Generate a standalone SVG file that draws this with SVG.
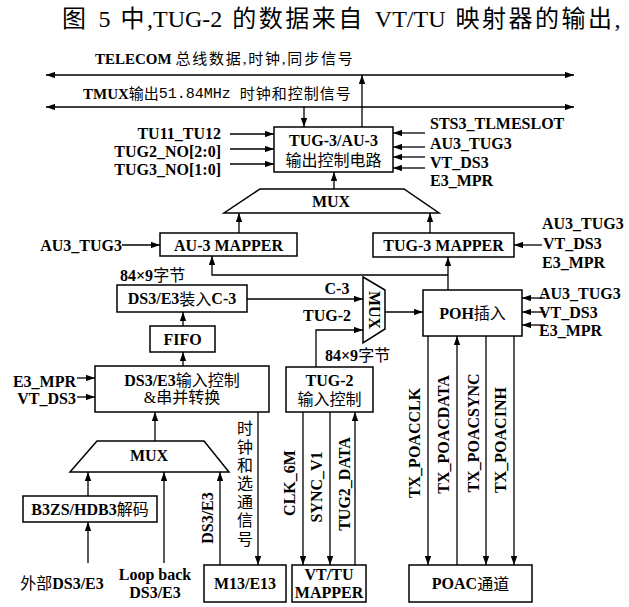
<svg xmlns="http://www.w3.org/2000/svg" width="629" height="607" viewBox="0 0 629 607">
<style>
text{font-family:"Liberation Serif","Noto Sans CJK SC",serif;font-size:16px;font-weight:bold;fill:#000;dominant-baseline:central}
.c{font-weight:normal}
.m{text-anchor:middle}
.e{text-anchor:end}
.ls{letter-spacing:2.5px}
.ln{stroke:#000;stroke-width:1.3;fill:none}
.ar{marker-end:url(#a)}
.bx{fill:#fff;stroke:#000;stroke-width:1.5}
</style>
<defs>
<marker id="a" viewBox="0 0 10 7" refX="10" refY="3.5" markerWidth="9" markerHeight="6.5" markerUnits="userSpaceOnUse" orient="auto-start-reverse"><path d="M0,0L10,3.5L0,7z" fill="#000"/></marker>
</defs>
<rect width="629" height="607" fill="#fff"/>
<text x="62" y="19" class="c" style="font-size:24px;word-spacing:4px"><tspan class="ls">图</tspan> 5 <tspan class="ls">中</tspan>,TUG-2 <tspan class="ls">的数据来自</tspan> VT/TU <tspan class="ls">映射器的输出</tspan>,</text>
<text x="95" y="59" style="font-size:15px">TELECOM <tspan class="c" style="letter-spacing:1.8px">总线数据,时钟,同步信号</tspan></text>
<text x="83" y="94" style="font-size:15px">TMUX<tspan class="c">输出</tspan><tspan class="c" style="font-family:'Liberation Mono',monospace">51.84MHz </tspan><tspan class="c" style="letter-spacing:1px">时钟和控制信号</tspan></text>

<g id="connectors">
<path class="ln ar" style="marker-start:url(#a)" d="M46,75H574"/>
<path class="ln ar" style="marker-start:url(#a)" d="M46,107H574"/>
<path class="ln ar" d="M362,127V75"/>
<path class="ln ar" d="M304,107V127"/>
<path class="ln ar" d="M230,134H274"/>
<path class="ln ar" d="M230,149H274"/>
<path class="ln ar" d="M230,164H274"/>
<path class="ln ar" d="M425,133H393"/>
<path class="ln ar" d="M425,147H393"/>
<path class="ln ar" d="M425,157H393"/>
<path class="ln ar" d="M425,168H393"/>
<path class="ln ar" d="M334,189V172"/>
<path class="ln ar" d="M239,233V213"/>
<path class="ln ar" d="M430,233V213"/>
<path class="ln ar" d="M122,245H160"/>
<path class="ln ar" d="M542,245H514"/>
<path class="ln ar" d="M448,290V257"/>
<path class="ln ar" d="M448,275H212V256"/>
<path class="ln ar" d="M247,299H363"/>
<path class="ln ar" d="M316,367V330H363"/>
<path class="ln ar" d="M385,312H423"/>
<path class="ln ar" d="M545,298H522"/>
<path class="ln ar" d="M545,312H522"/>
<path class="ln ar" d="M545,325H522"/>
<path class="ln ar" d="M183,326V312"/>
<path class="ln ar" d="M183,366V352"/>
<path class="ln ar" d="M77,378H95"/>
<path class="ln ar" d="M77,397H95"/>
<path class="ln ar" d="M155,441V412"/>
<path class="ln ar" d="M88,496V472"/>
<path class="ln ar" d="M88,563V522"/>
<path class="ln ar" d="M164,563V472"/>
<path class="ln ar" d="M220,565V472"/>
<path class="ln ar" d="M258,412V565"/>
<path class="ln ar" d="M303,412V565"/>
<path class="ln ar" d="M330,412V565"/>
<path class="ln ar" d="M355,565V412"/>
<path class="ln ar" d="M428,336V565"/>
<path class="ln ar" d="M457,565V336"/>
<path class="ln ar" d="M486,336V565"/>
<path class="ln ar" d="M514,336V565"/>
</g>

<g id="labels">
<text x="221" y="133" class="e">TU11_TU12</text>
<text x="221" y="151" class="e">TUG2_NO[2:0]</text>
<text x="221" y="169" class="e">TUG3_NO[1:0]</text>
<text x="430" y="123">STS3_TLMESLOT</text>
<text x="430" y="143">AU3_TUG3</text>
<text x="430" y="162">VT_DS3</text>
<text x="430" y="180">E3_MPR</text>
<text x="122" y="245" class="e">AU3_TUG3</text>
<text x="542" y="223">AU3_TUG3</text>
<text x="543" y="243">VT_DS3</text>
<text x="542" y="262">E3_MPR</text>
<text x="120" y="275">84×9<tspan class="c">字节</tspan></text>
<text x="337" y="288" class="m">C-3</text>
<text x="327" y="315" class="m">TUG-2</text>
<text x="325" y="355">84×9<tspan class="c">字节</tspan></text>
<text x="539" y="293">AU3_TUG3</text>
<text x="539" y="312">VT_DS3</text>
<text x="539" y="330">E3_MPR</text>
<text x="76" y="381" class="e">E3_MPR</text>
<text x="76" y="398" class="e">VT_DS3</text>
<text class="c m"><tspan x="245" y="428">时</tspan><tspan x="245" y="446.5">钟</tspan><tspan x="245" y="465">和</tspan><tspan x="245" y="483">选</tspan><tspan x="245" y="502">通</tspan><tspan x="245" y="520">信</tspan><tspan x="245" y="539">号</tspan></text>
<text class="m" transform="translate(207,518) rotate(-90)">DS3/E3</text>
<text x="62" y="583" class="m"><tspan class="c">外部</tspan>DS3/E3</text>
<text x="155" y="574" class="m">Loop back</text>
<text x="155" y="592" class="m">DS3/E3</text>
<text class="m" transform="translate(289,483) rotate(-90)">CLK_6M</text>
<text class="m" transform="translate(316.5,487) rotate(-90)">SYNC_V1</text>
<text class="m" transform="translate(344,484) rotate(-90)">TUG2_DATA</text>
<text class="m" transform="translate(414.5,443) rotate(-90)">TX_POACCLK</text>
<text class="m" transform="translate(443,434.5) rotate(-90)">TX_POACDATA</text>
<text class="m" transform="translate(473,433) rotate(-90)">TX_POACSYNC</text>
<text class="m" transform="translate(500.5,440) rotate(-90)">TX_POACINH</text>
</g>

<g id="tug3au3"><rect class="bx" x="274" y="127" width="119" height="45"/><text x="333.5" y="140" class="m">TUG-3/AU-3</text><text x="333.5" y="160" class="m c">输出控制电路</text></g>
<g id="mux1"><polygon class="bx" points="260,189 404,189 439,213 224,213"/><text x="331" y="201" class="m">MUX</text></g>
<g id="au3mapper"><rect class="bx" x="160" y="233" width="137" height="23"/><text x="228.5" y="245" class="m">AU-3 MAPPER</text></g>
<g id="tug3mapper"><rect class="bx" x="373" y="233" width="141" height="24"/><text x="443.5" y="245" class="m">TUG-3 MAPPER</text></g>
<g id="c3"><rect class="bx" x="117" y="285" width="130" height="27"/><text x="182" y="298.5" class="m">DS3/E3<tspan class="c">装入</tspan>C-3</text></g>
<g id="fifo"><rect class="bx" x="150" y="326" width="65" height="26"/><text x="182.5" y="339" class="m">FIFO</text></g>
<g id="ds3ctrl"><rect class="bx" x="95" y="366" width="174" height="46"/><text x="182" y="380" class="m">DS3/E3<tspan class="c">输入控制</tspan></text><text x="182" y="397" class="m c">&amp;串并转换</text></g>
<g id="mux2"><polygon class="bx" points="363,277 385,290 385,329 363,343"/><text class="m" transform="translate(374,310) rotate(90)">MUX</text></g>
<g id="poh"><rect class="bx" x="423" y="290" width="99" height="46"/><text x="472.5" y="313" class="m">POH<tspan class="c">插入</tspan></text></g>
<g id="tug2ctrl"><rect class="bx" x="286" y="367" width="87" height="45"/><text x="329.5" y="380" class="m">TUG-2</text><text x="329.5" y="399" class="m c">输入控制</text></g>
<g id="mux3"><polygon class="bx" points="97,441 204,441 229,472 70,472"/><text x="149" y="455" class="m">MUX</text></g>
<g id="b3zs"><rect class="bx" x="23" y="496" width="134" height="26"/><text x="90" y="509" class="m">B3ZS/HDB3<tspan class="c">解码</tspan></text></g>
<g id="m13"><rect class="bx" x="204" y="565" width="82" height="37"/><text x="245" y="583.5" class="m">M13/E13</text></g>
<g id="vttu"><rect class="bx" x="292" y="565" width="74" height="37"/><text x="329" y="574" class="m">VT/TU</text><text x="329" y="592.5" class="m">MAPPER</text></g>
<g id="poac"><rect class="bx" x="409" y="565" width="123" height="37"/><text x="470.5" y="583.5" class="m">POAC<tspan class="c">通道</tspan></text></g>
</svg>
